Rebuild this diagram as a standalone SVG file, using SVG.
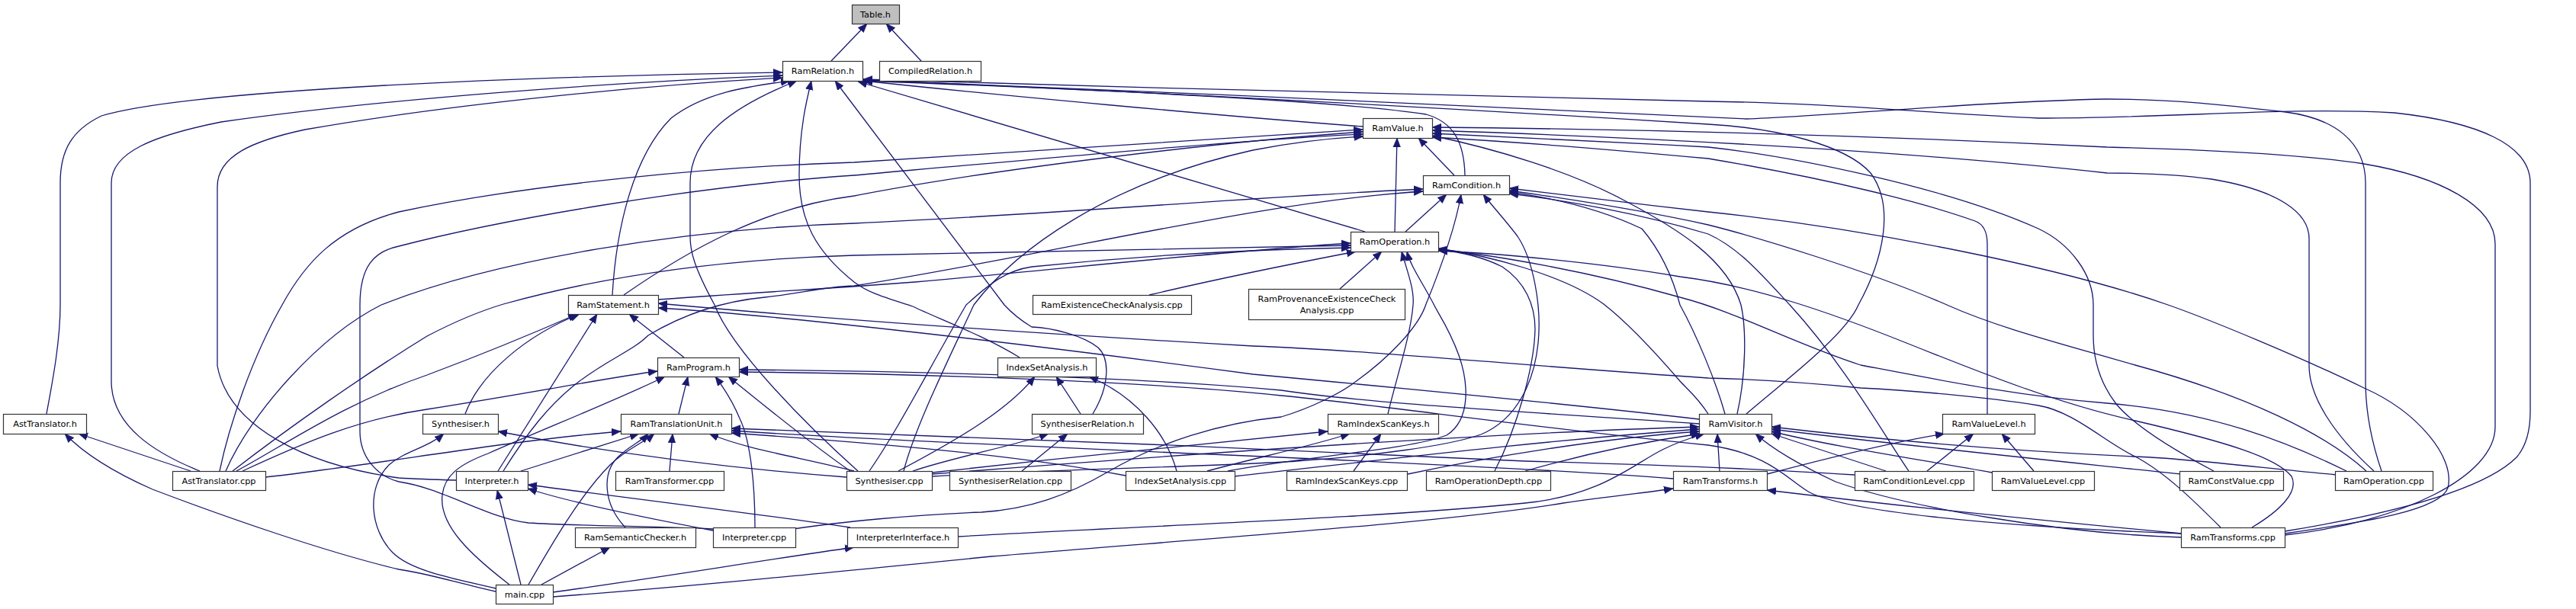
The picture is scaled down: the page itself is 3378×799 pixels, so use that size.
<svg xmlns="http://www.w3.org/2000/svg" width="3378" height="799" viewBox="0 0 3378 799">
<style>
.n rect{fill:#fff;stroke:#333;stroke-width:1.2}
.n text{font-family:"DejaVu Sans",sans-serif;font-size:11.3px;text-anchor:middle;fill:#000}
#Table rect{fill:#bfbfbf}
.e path{fill:none;stroke:#191970;stroke-width:1.3;marker-end:url(#ah)}
</style>
<defs>
<marker id="ah" viewBox="0 0 10 10" refX="10" refY="5" markerWidth="12" markerHeight="12" markerUnits="userSpaceOnUse" orient="auto"><path d="M0,1 L10,5 L0,9 z" fill="#191970" stroke="#191970" stroke-width="0.5"/></marker>
</defs>
<rect x="0" y="0" width="3378" height="799" fill="#fff"/>
<g id="edges" class="e">
<path d="M1090,80 L1137,31"/>
<path d="M1208,80 L1162,31"/>
<path d="M61,543 C68,505 79,450 79,400 L79,240 C79,195 96,170 133,152 C250,117 700,100 1026,95"/>
<path d="M262,618 C205,595 146,560 146,500 L146,240 C146,200 200,178 290,160 C500,130 800,108 1026,99"/>
<path d="M598,630 C565,629 540,628 523,627 C400,610 300,560 285,480 L285,245 C285,205 330,185 400,170 C600,135 850,112 1026,102"/>
<path d="M803,387 C808,300 830,205 880,155 C925,120 985,113 1036,106"/>
<path d="M1125,618 C1060,560 960,460 937,400 C910,350 905,330 905,310 L905,240 C905,180 960,140 1045,106"/>
<path d="M1337,469 C1290,440 1230,418 1197,402 C1160,390 1140,385 1120,370 C1070,330 1048,290 1048,230 C1048,170 1058,130 1064,106"/>
<path d="M1433,543 C1456,505 1455,470 1440,456 C1420,440 1380,430 1353,429 C1338,420 1328,412 1317,400 L1095,106"/>
<path d="M1787,166 C1600,152 1300,124 1132,106"/>
<path d="M1921,230 C1920,185 1905,160 1870,150 C1750,132 1450,118 1132,106"/>
<path d="M1790,304 L1125,107"/>
<path d="M2290,543 C2340,500 2420,440 2437,400 C2470,340 2485,270 2453,227 C2420,190 2330,168 2240,163 C1900,142 1500,120 1132,105"/>
<path d="M3123,618 C3110,580 3102,540 3102,500 L3102,240 C3102,185 3060,155 2997,147 C2920,138 2850,130 2763,130 C2600,133 2400,152 2290,156 C2000,143 1500,118 1132,105"/>
<path d="M2996,697 C3100,680 3250,650 3300,600 C3313,585 3318,565 3318,540 L3318,240 C3318,190 3250,160 3140,148 C3000,140 2850,155 2673,155 C2550,150 2400,135 2240,133 C1900,126 1500,115 1132,104"/>
<path d="M1907,230 L1860,181"/>
<path d="M1829,304 L1832,181"/>
<path d="M818,387 C900,330 1000,272 1120,257 C1300,222 1600,186 1787,173"/>
<path d="M288,618 C300,560 330,470 370,400 C400,345 440,300 523,278 C700,240 950,218 1120,213 C1400,196 1650,180 1787,170"/>
<path d="M935,694 C850,690 750,690 693,686 C640,680 580,640 523,632 C495,625 472,600 472,566 L472,400 C472,350 490,330 523,323 C650,290 900,245 1120,230 C1400,205 1650,182 1787,176"/>
<path d="M1185,618 C1200,560 1240,480 1277,400 C1330,330 1450,240 1643,197 C1700,186 1750,181 1788,179"/>
<path d="M2278,543 C2290,490 2290,430 2283,400 C2265,340 2200,300 2130,263 C2060,225 1960,195 1878,178"/>
<path d="M2996,702 C3150,685 3272,625 3272,560 L3272,320 C3272,270 3200,232 3100,215 C3000,200 2850,195 2763,193 C2500,180 2200,170 1878,167"/>
<path d="M3113,618 C3060,570 3028,520 3028,480 L3028,313 C3028,280 2990,250 2900,235 C2850,228 2800,227 2763,227 C2500,198 2200,182 1878,171"/>
<path d="M2903,618 C2850,590 2800,560 2775,530 C2752,500 2745,470 2745,440 L2745,400 C2745,360 2715,320 2673,300 C2550,245 2350,205 2240,193 C2100,185 1950,178 1878,175"/>
<path d="M2606,543 L2606,320 C2606,300 2598,293 2590,290 C2520,265 2400,235 2240,208 C2100,195 1950,184 1878,180"/>
<path d="M1843,304 L1897,255"/>
<path d="M296,618 C330,540 420,440 500,400 C650,340 900,300 1120,293 C1400,280 1650,258 1866,248"/>
<path d="M660,618 C690,570 720,530 760,500 C800,470 830,460 850,440 C900,410 950,395 1003,390 C1050,385 1080,376 1120,375 C1400,330 1650,265 1866,251"/>
<path d="M1040,694 C1100,685 1200,675 1287,672 C1350,668 1400,650 1453,619 C1520,580 1600,555 1680,547 C1720,535 1760,515 1780,499 C1820,470 1860,430 1870,399 C1890,350 1908,300 1916,255"/>
<path d="M1222,625 C1400,615 1600,612 1700,605 C1800,598 1900,585 1942,570 C1990,550 2012,500 2017,450 C2022,400 2010,340 1990,310 C1975,290 1955,268 1945,255"/>
<path d="M2996,700 C3100,685 3200,670 3210,640 C3220,600 3170,540 3100,509 C3020,470 2900,420 2843,400 C2700,350 2450,300 2240,278 C2150,268 2050,256 1979,247"/>
<path d="M3103,618 C3050,570 2950,520 2800,479 C2700,450 2620,430 2553,400 C2450,355 2300,310 2240,295 C2150,275 2050,260 1979,250"/>
<path d="M2262,543 C2250,500 2225,440 2203,400 C2190,350 2170,320 2153,300 C2100,275 2040,260 1979,252"/>
<path d="M2503,618 C2470,570 2420,480 2347,400 C2310,360 2280,325 2240,307 C2150,280 2050,262 1979,254"/>
<path d="M863,393 C1000,383 1100,378 1200,370 C1400,352 1600,330 1771,319"/>
<path d="M305,618 C380,560 480,490 560,441 C600,420 630,408 660,399 C800,360 950,340 1120,335 C1400,328 1600,324 1771,322"/>
<path d="M1140,618 C1180,560 1220,480 1267,400 C1300,370 1320,355 1353,350 C1450,340 1600,328 1771,325"/>
<path d="M1757,379 L1812,330"/>
<path d="M1507,387 C1600,365 1700,345 1778,330"/>
<path d="M1820,543 C1830,500 1850,440 1853,400 C1855,380 1845,355 1838,330"/>
<path d="M1610,618 C1700,600 1850,590 1897,571 C1930,550 1925,500 1913,466 C1900,430 1885,410 1880,399 C1865,370 1850,350 1845,330"/>
<path d="M1960,618 C1990,560 2012,480 2013,432 C2013,400 2000,370 1970,350 C1940,335 1910,330 1886,328"/>
<path d="M2240,543 C2225,520 2212,510 2203,500 C2160,450 2130,420 2103,399 C2050,360 1950,335 1886,326"/>
<path d="M3077,618 C3000,580 2900,540 2763,529 C2650,520 2550,500 2440,479 C2350,450 2280,410 2203,390 C2080,355 1960,335 1886,327"/>
<path d="M2953,692 C2990,670 3015,645 3005,625 C2985,600 2920,580 2800,552 C2700,530 2600,490 2500,450 C2400,410 2300,375 2203,363 C2100,345 1960,332 1886,329"/>
<path d="M310,618 C380,580 450,530 560,492 C640,462 700,437 757,412"/>
<path d="M610,543 C630,490 690,440 760,412"/>
<path d="M653,618 L783,412"/>
<path d="M897,469 L825,412"/>
<path d="M2228,550 C2100,535 1900,515 1643,491 C1300,445 1000,412 863,404"/>
<path d="M2912,692 C2880,660 2840,620 2800,599 C2760,580 2720,540 2673,532 C2600,520 2500,512 2440,509 C2350,500 2280,497 2240,496 C2000,480 1800,460 1643,454 C1400,440 1100,420 863,398"/>
<path d="M318,618 C400,580 470,550 560,537 C700,515 800,495 862,487"/>
<path d="M668,767 C620,730 575,690 580,649 C583,625 600,610 640,595 C720,560 820,520 872,494"/>
<path d="M890,543 L902,494"/>
<path d="M990,692 C990,640 985,580 970,549 C960,525 950,510 938,494"/>
<path d="M1115,618 C1060,580 1000,530 955,494"/>
<path d="M2228,556 C2000,540 1800,530 1680,512 C1500,495 1200,487 969,485"/>
<path d="M2861,700 C2600,690 2420,670 2373,646 C2345,630 2320,595 2240,584 C2000,560 1800,530 1680,519 C1500,500 1200,490 969,488"/>
<path d="M1178,618 C1250,580 1320,540 1357,494"/>
<path d="M1417,543 L1385,494"/>
<path d="M1543,618 C1530,570 1490,520 1428,494"/>
<path d="M250,618 L103,569"/>
<path d="M650,776 C600,765 560,752 523,747 C430,725 300,680 200,642 C150,620 110,595 85,569"/>
<path d="M650,772 C600,760 540,750 515,725 C485,695 480,640 510,610 C530,592 560,588 582,569"/>
<path d="M1110,626 C900,610 750,585 653,566"/>
<path d="M348,626 C450,615 600,590 700,578 C750,572 790,568 814,566"/>
<path d="M683,618 L838,569"/>
<path d="M820,692 C790,660 790,620 810,600 C825,585 840,580 850,569"/>
<path d="M693,767 C720,720 760,650 800,610 C820,590 845,580 858,569"/>
<path d="M878,618 L882,569"/>
<path d="M1120,618 C1050,600 980,590 930,569"/>
<path d="M1476,624 C1350,600 1200,585 959,568"/>
<path d="M2194,628 C2100,620 1900,610 1680,600 C1400,588 1100,575 959,565"/>
<path d="M2432,623 C2350,618 2250,612 2000,605 C1700,590 1200,570 959,562"/>
<path d="M683,767 L652,643"/>
<path d="M935,696 C850,680 750,660 692,641"/>
<path d="M1115,692 C1000,675 800,650 692,636"/>
<path d="M1197,618 C1250,600 1330,585 1375,569"/>
<path d="M1340,618 L1400,569"/>
<path d="M1222,620 C1400,600 1600,580 1741,566"/>
<path d="M1583,618 C1650,600 1720,585 1770,569"/>
<path d="M1775,618 L1811,569"/>
<path d="M1222,622 C1500,600 1900,570 2228,560"/>
<path d="M1618,625 C1800,605 2000,580 2228,563"/>
<path d="M1846,622 C1950,600 2100,575 2228,566"/>
<path d="M2000,618 C2080,595 2150,580 2230,569"/>
<path d="M1256,704 C1500,690 1800,680 2000,660 C2100,650 2140,610 2180,590 C2200,580 2215,575 2235,569"/>
<path d="M2255,618 L2252,569"/>
<path d="M2473,618 L2323,569"/>
<path d="M2612,620 C2500,600 2400,585 2323,566"/>
<path d="M2860,622 C2700,605 2500,585 2323,563"/>
<path d="M3064,623 C2950,612 2850,600 2800,599 C2600,590 2450,575 2323,560"/>
<path d="M2861,705 C2700,700 2500,665 2407,632 C2360,610 2325,590 2302,569"/>
<path d="M2317,622 C2400,600 2480,580 2550,569"/>
<path d="M2527,618 L2588,569"/>
<path d="M2667,618 L2625,569"/>
<path d="M725,783 C900,770 1100,750 1300,730 C1600,705 1900,685 2050,660 C2120,650 2170,645 2194,641"/>
<path d="M2861,700 C2700,685 2500,665 2317,643"/>
<path d="M725,777 C850,760 1000,735 1120,718"/>
<path d="M710,767 L800,718"/>
</g>
<g id="Table" class="n"><rect x="1117.5" y="6.5" width="62" height="25"/><text x="1148" y="23">Table.h</text></g>
<g id="RamRelation" class="n"><rect x="1026.5" y="80.5" width="105" height="26"/><text x="1079" y="97">RamRelation.h</text></g>
<g id="CompiledRelation" class="n"><rect x="1153.5" y="80.5" width="133" height="26"/><text x="1220" y="97">CompiledRelation.h</text></g>
<g id="RamValue" class="n"><rect x="1787.5" y="155.5" width="91" height="26"/><text x="1833" y="172">RamValue.h</text></g>
<g id="RamCondition" class="n"><rect x="1866.5" y="230.5" width="113" height="25"/><text x="1923" y="247">RamCondition.h</text></g>
<g id="RamOperation" class="n"><rect x="1771.5" y="304.5" width="115" height="26"/><text x="1829" y="321">RamOperation.h</text></g>
<g id="RamStatement" class="n"><rect x="745.5" y="387.5" width="118" height="25"/><text x="804" y="404">RamStatement.h</text></g>
<g id="RamExistenceCheckAnalysis" class="n"><rect x="1354.5" y="387.5" width="208" height="25"/><text x="1458" y="404">RamExistenceCheckAnalysis.cpp</text></g>
<g id="RamProvenanceExistenceCheckAnalysis" class="n"><rect x="1637.5" y="379.5" width="205" height="40"/><text x="1740" y="396">RamProvenanceExistenceCheck</text><text x="1740" y="411">Analysis.cpp</text></g>
<g id="RamProgram" class="n"><rect x="862.5" y="469.5" width="107" height="25"/><text x="916" y="486">RamProgram.h</text></g>
<g id="IndexSetAnalysisH" class="n"><rect x="1308.5" y="469.5" width="129" height="25"/><text x="1373" y="486">IndexSetAnalysis.h</text></g>
<g id="AstTranslatorH" class="n"><rect x="4.5" y="543.5" width="109" height="26"/><text x="59" y="560">AstTranslator.h</text></g>
<g id="SynthesiserH" class="n"><rect x="554.5" y="543.5" width="99" height="26"/><text x="604" y="560">Synthesiser.h</text></g>
<g id="RamTranslationUnit" class="n"><rect x="814.5" y="543.5" width="145" height="26"/><text x="887" y="560">RamTranslationUnit.h</text></g>
<g id="SynthesiserRelationH" class="n"><rect x="1353.5" y="543.5" width="146" height="26"/><text x="1426" y="560">SynthesiserRelation.h</text></g>
<g id="RamIndexScanKeysH" class="n"><rect x="1741.5" y="543.5" width="145" height="26"/><text x="1814" y="560">RamIndexScanKeys.h</text></g>
<g id="RamVisitor" class="n"><rect x="2228.5" y="543.5" width="95" height="26"/><text x="2276" y="560">RamVisitor.h</text></g>
<g id="RamValueLevelH" class="n"><rect x="2547.5" y="543.5" width="121" height="26"/><text x="2608" y="560">RamValueLevel.h</text></g>
<g id="AstTranslatorCpp" class="n"><rect x="226.5" y="618.5" width="122" height="25"/><text x="287" y="635">AstTranslator.cpp</text></g>
<g id="InterpreterH" class="n"><rect x="598.5" y="618.5" width="94" height="25"/><text x="645" y="635">Interpreter.h</text></g>
<g id="RamTransformer" class="n"><rect x="807.5" y="618.5" width="142" height="25"/><text x="878" y="635">RamTransformer.cpp</text></g>
<g id="SynthesiserCpp" class="n"><rect x="1110.5" y="618.5" width="112" height="25"/><text x="1166" y="635">Synthesiser.cpp</text></g>
<g id="SynthesiserRelationCpp" class="n"><rect x="1245.5" y="618.5" width="159" height="25"/><text x="1325" y="635">SynthesiserRelation.cpp</text></g>
<g id="IndexSetAnalysisCpp" class="n"><rect x="1476.5" y="618.5" width="143" height="25"/><text x="1548" y="635">IndexSetAnalysis.cpp</text></g>
<g id="RamIndexScanKeysCpp" class="n"><rect x="1687.5" y="618.5" width="158" height="25"/><text x="1766" y="635">RamIndexScanKeys.cpp</text></g>
<g id="RamOperationDepth" class="n"><rect x="1870.5" y="618.5" width="163" height="25"/><text x="1952" y="635">RamOperationDepth.cpp</text></g>
<g id="RamTransformsH" class="n"><rect x="2194.5" y="618.5" width="123" height="25"/><text x="2256" y="635">RamTransforms.h</text></g>
<g id="RamConditionLevel" class="n"><rect x="2432.5" y="618.5" width="156" height="25"/><text x="2510" y="635">RamConditionLevel.cpp</text></g>
<g id="RamValueLevelCpp" class="n"><rect x="2612.5" y="618.5" width="134" height="25"/><text x="2679" y="635">RamValueLevel.cpp</text></g>
<g id="RamConstValue" class="n"><rect x="2858.5" y="618.5" width="136" height="25"/><text x="2926" y="635">RamConstValue.cpp</text></g>
<g id="RamOperationCpp" class="n"><rect x="3062.5" y="618.5" width="128" height="25"/><text x="3126" y="635">RamOperation.cpp</text></g>
<g id="RamSemanticChecker" class="n"><rect x="754.5" y="692.5" width="158" height="26"/><text x="833" y="709">RamSemanticChecker.h</text></g>
<g id="InterpreterCpp" class="n"><rect x="935.5" y="692.5" width="108" height="26"/><text x="989" y="709">Interpreter.cpp</text></g>
<g id="InterpreterInterface" class="n"><rect x="1111.5" y="692.5" width="145" height="26"/><text x="1184" y="709">InterpreterInterface.h</text></g>
<g id="RamTransformsCpp" class="n"><rect x="2860.5" y="692.5" width="136" height="26"/><text x="2928" y="709">RamTransforms.cpp</text></g>
<g id="main" class="n"><rect x="650.5" y="767.5" width="75" height="25"/><text x="688" y="784">main.cpp</text></g>
</svg>
